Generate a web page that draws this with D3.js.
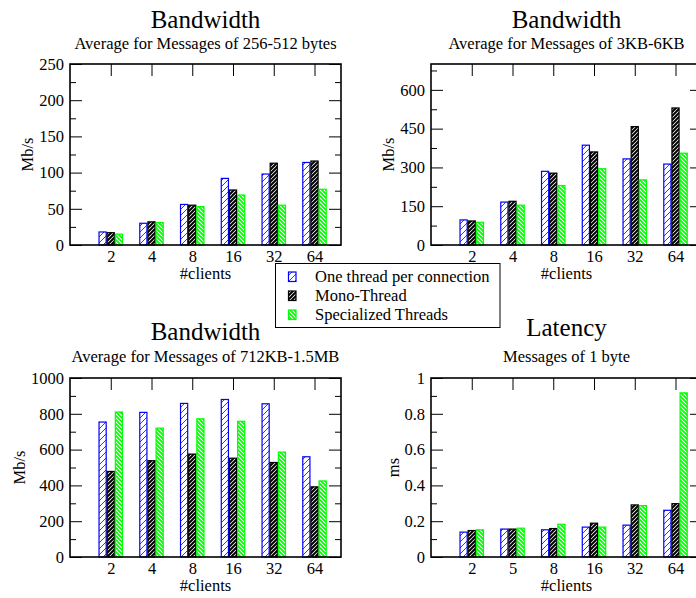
<!DOCTYPE html>
<html>
<head>
<meta charset="utf-8">
<script src="https://cdn.jsdelivr.net/npm/d3@7"></script>
<style>
  body { margin: 0; background: #fff; }
  svg { display: block; font-family: "Liberation Serif", "Times New Roman", serif; }
</style>
</head>
<body>
<div id="chart"></div>
<script>
// data
var series = ["One thread per connection", "Mono-Thread", "Specialized Threads"];

var clientsBw = ["2", "4", "8", "16", "32", "64"];
var clientsLat = ["2", "5", "8", "16", "32", "64"];

var bwSmall = [
  [18, 30, 56, 92, 98, 114],
  [17, 32, 55, 76, 113, 116],
  [15, 31, 53, 69, 55, 77]
];
var bwMedium = [
  [97, 166, 285, 386, 333, 313],
  [93, 169, 278, 360, 458, 530],
  [88, 154, 230, 295, 252, 355]
];
var bwLarge = [
  [754, 808, 858, 880, 856, 560],
  [478, 538, 575, 552, 528, 392],
  [810, 720, 772, 758, 586, 425]
];
var latency = [
  [0.139, 0.156, 0.152, 0.167, 0.178, 0.261],
  [0.148, 0.156, 0.159, 0.189, 0.291, 0.298],
  [0.152, 0.161, 0.183, 0.167, 0.287, 0.917]
];

var width = 696;
var height = 598;

var svg = d3.select("#chart").append("svg")
  .attr("width", width)
  .attr("height", height);

svg.append("rect").attr("width", width).attr("height", height).attr("fill", "#fff");

// hatch patterns, xmgrace style
var defs = svg.append("defs");
function hatch(id, size, d, color, sw) {
  var p = defs.append("pattern")
    .attr("id", id)
    .attr("patternUnits", "userSpaceOnUse")
    .attr("width", size)
    .attr("height", size);
  p.append("rect").attr("width", size).attr("height", size).attr("fill", "#fff");
  p.append("path").attr("d", d).attr("stroke", color).attr("stroke-width", sw).attr("fill", "none");
}
hatch("hBlue", 6, "M0,6L6,0M-1,1L1,-1M5,7L7,5", "#0000ff", 0.8);
hatch("hBlack", 4, "M0,4L4,0M-1,1L1,-1M3,5L5,3", "#000", 2.0);
hatch("hGreen", 4, "M0,0L4,4M-1,3L1,5M3,-1L5,1", "#00ff00", 1.9);

var fills = ["url(#hBlue)", "url(#hBlack)", "url(#hGreen)"];
var strokes = ["#0000ff", "#000", "#00ff00"];

var panels = [
  { x0: 70, x1: 341, y0: 64, y1: 245, cats: clientsBw, data: bwSmall, max: 250,
    major: [0, 50, 100, 150, 200, 250], minor: [25, 75, 125, 175, 225],
    title: "Bandwidth", sub: "Average for Messages of 256-512 bytes", ylab: "Mb/s",
    tY: 28, sY: 49, labX: 33 },
  { x0: 431, x1: 702, y0: 64, y1: 245, cats: clientsBw, data: bwMedium, max: 700,
    major: [0, 150, 300, 450, 600], minor: [75, 225, 375, 525, 675],
    title: "Bandwidth", sub: "Average for Messages of 3KB-6KB", ylab: "Mb/s",
    tY: 28, sY: 49, labX: 394 },
  { x0: 70, x1: 341, y0: 378, y1: 557, cats: clientsBw, data: bwLarge, max: 1000,
    major: [0, 200, 400, 600, 800, 1000], minor: [100, 300, 500, 700, 900],
    title: "Bandwidth", sub: "Average for Messages of 712KB-1.5MB", ylab: "Mb/s",
    tY: 340, sY: 362, labX: 25 },
  { x0: 431, x1: 702, y0: 378, y1: 557, cats: clientsLat, data: latency, max: 1,
    major: [0, 0.2, 0.4, 0.6, 0.8, 1], minor: [0.1, 0.3, 0.5, 0.7, 0.9],
    title: "Latency", sub: "Messages of 1 byte", ylab: "ms",
    tY: 336, sY: 362, labX: 399 }
];

panels.forEach(drawPanel);

function drawPanel(p) {
  var g = svg.append("g");

  var x = d3.scaleLinear().domain([0, 6.65]).range([p.x0, p.x1]);
  var y = d3.scaleLinear().domain([0, p.max]).range([p.y1, p.y0]);
  var idx = d3.range(1, p.cats.length + 1);
  var fmt = d3.format("~g");

  // left axis with labels, inward ticks
  g.append("g").attr("transform", "translate(" + p.x0 + ",0)")
    .call(d3.axisLeft(y).tickValues(p.major).tickSize(-12).tickPadding(6).tickFormat(fmt));
  g.append("g").attr("transform", "translate(" + p.x0 + ",0)")
    .call(d3.axisLeft(y).tickValues(p.minor).tickSize(-6).tickFormat(""));
  g.append("g").attr("transform", "translate(" + p.x1 + ",0)")
    .call(d3.axisRight(y).tickValues(p.major).tickSize(-12).tickFormat(""));
  g.append("g").attr("transform", "translate(" + p.x1 + ",0)")
    .call(d3.axisRight(y).tickValues(p.minor).tickSize(-6).tickFormat(""));
  g.append("g").attr("transform", "translate(0," + p.y0 + ")")
    .call(d3.axisTop(x).tickValues(idx).tickSize(-12).tickFormat(""));
  g.append("g").attr("transform", "translate(0," + p.y1 + ")")
    .call(d3.axisBottom(x).tickValues(idx).tickSize(-12).tickPadding(5)
      .tickFormat(function(d) { return p.cats[d - 1]; }));

  g.selectAll(".domain").remove();
  g.selectAll(".tick line").attr("stroke", "#000");
  g.selectAll(".tick text")
    .attr("fill", "#000")
    .style("font-family", "Liberation Serif, serif")
    .style("font-size", "16.5px");

  // bars
  p.data.forEach(function(vals, s) {
    g.append("g").selectAll("rect")
      .data(vals)
      .enter()
      .append("rect")
      .attr("x", function(d, i) { return x(i + 1 + (s - 1) * 0.2 - 0.1) + 0.5; })
      .attr("width", x(0.2) - x(0) - 1)
      .attr("y", function(d) { return y(d); })
      .attr("height", function(d) { return y(0) - y(d); })
      .attr("fill", fills[s])
      .attr("stroke", strokes[s])
      .attr("stroke-width", 1.2);
  });

  // frame
  g.append("rect")
    .attr("x", p.x0).attr("y", p.y0)
    .attr("width", p.x1 - p.x0).attr("height", p.y1 - p.y0)
    .attr("fill", "none").attr("stroke", "#000").attr("stroke-width", 1.6);

  var cx = (p.x0 + p.x1) / 2;
  g.append("text").attr("x", cx).attr("y", p.tY).attr("text-anchor", "middle")
    .style("font-size", "25px").text(p.title);
  g.append("text").attr("x", cx).attr("y", p.sY).attr("text-anchor", "middle")
    .style("font-size", "16.5px").text(p.sub);
  g.append("text").attr("x", cx).attr("y", p.y1 + 34).attr("text-anchor", "middle")
    .style("font-size", "16.5px").text("#clients");
  g.append("text")
    .attr("transform", "translate(" + p.labX + "," + ((p.y0 + p.y1) / 2) + ") rotate(-90)")
    .attr("text-anchor", "middle")
    .style("font-size", "16.5px").text(p.ylab);
}

// legend box between the panels
var legend = svg.append("g").attr("class", "legend");
legend.append("rect")
  .attr("x", 275.5).attr("y", 263.5).attr("width", 224.5).attr("height", 64)
  .attr("fill", "#fff").attr("stroke", "#000").attr("stroke-width", 1);

series.forEach(function(name, s) {
  var ry = 272 + s * 19;
  legend.append("rect")
    .attr("x", 288.5).attr("y", ry).attr("width", 7.5).attr("height", 9.5)
    .attr("fill", fills[s]).attr("stroke", strokes[s]).attr("stroke-width", 1.2);
  legend.append("text")
    .attr("x", 315).attr("y", ry + 9.5)
    .style("font-size", "16.5px").text(name);
});
</script>
</body>
</html>
